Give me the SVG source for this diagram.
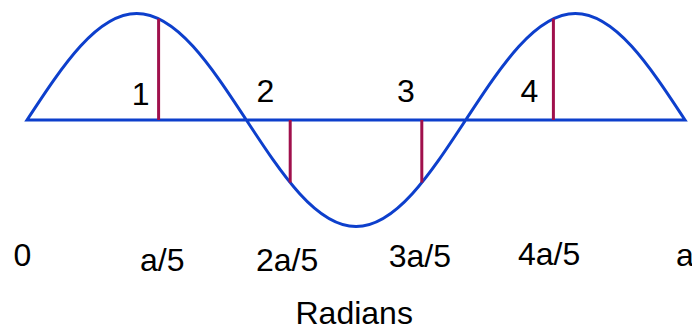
<svg xmlns="http://www.w3.org/2000/svg" width="692" height="329" viewBox="0 0 692 329">
<style>
.wave{fill:none;stroke:#0D3FCC;stroke-width:3;stroke-linejoin:miter}
.ord{stroke:#A0104C;stroke-width:3;fill:none}
text{font-family:"Liberation Sans",Arial,sans-serif;font-size:32px;fill:#000}
.num{text-anchor:middle}
</style>
<rect width="692" height="329" fill="#fff"/>
<g id="wave">
<path class="wave" d="M27,120 c35.77,-54.56 69.98,-106.5 109.67,-106.5 c39.68,0 73.89,51.94 109.67,106.5 c35.77,54.56 69.98,106.5 109.67,106.5 c39.68,0 73.89,-51.94 109.67,-106.5 c35.77,-54.56 69.98,-106.5 109.67,-106.5 c39.68,0 73.89,51.94 109.67,106.5 Z"/>
</g>
<g id="ordinates">
<line class="ord" x1="158.6" y1="18.7" x2="158.6" y2="120"/>
<line class="ord" x1="290.2" y1="120" x2="290.2" y2="182.6"/>
<line class="ord" x1="421.8" y1="120" x2="421.8" y2="182.6"/>
<line class="ord" x1="553.4" y1="18.7" x2="553.4" y2="120"/>
</g>
<g id="ordinate-labels">
<text class="num" x="140.7" y="105">1</text>
<text class="num" x="265.3" y="102">2</text>
<text class="num" x="406" y="102">3</text>
<text class="num" x="529.5" y="102">4</text>
</g>
<g id="axis-labels">
<text x="13.5" y="266">0</text>
<text x="140" y="271">a/5</text>
<text x="256" y="271">2a/5</text>
<text x="388.7" y="267">3a/5</text>
<text x="518" y="265">4a/5</text>
<text x="676" y="266">a</text>
<text x="295.5" y="324">Radians</text>
</g>
</svg>
